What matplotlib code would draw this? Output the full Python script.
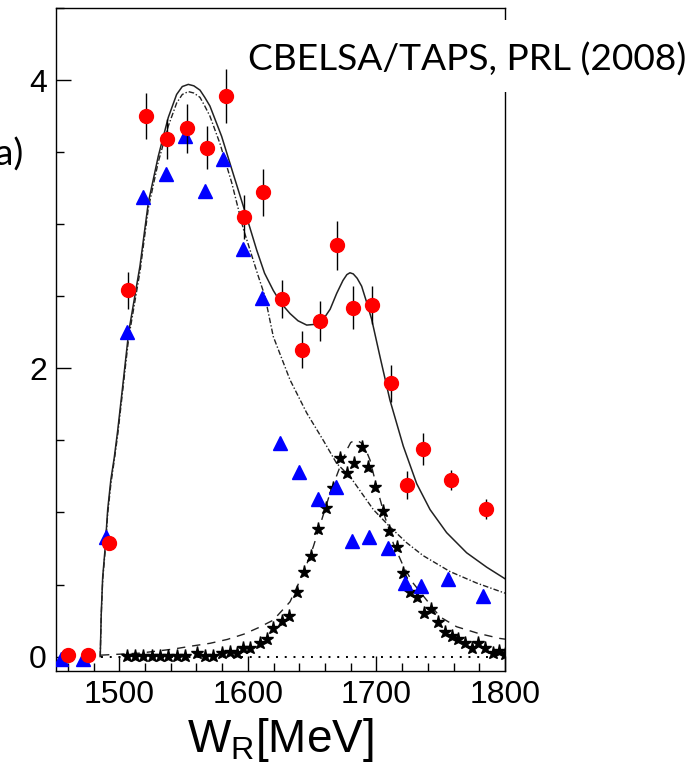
import matplotlib
matplotlib.use('Agg')
import matplotlib.pyplot as plt
from matplotlib.patches import Rectangle
from matplotlib.ticker import MultipleLocator
from matplotlib.transforms import Bbox, TransformedBbox, offset_copy

plt.rcParams['font.family'] = ['Liberation Sans', 'DejaVu Sans']
plt.rcParams['mathtext.default'] = 'regular'

# data points (red circles with errors, blue triangles)
red_x = [1460, 1476, 1492, 1507, 1520.5, 1537, 1553, 1568, 1583, 1597, 1612, 1626.5,
         1642, 1656, 1669.5, 1682, 1696.5, 1711, 1724, 1736.5, 1758, 1785]
red_y = [0.01, 0.01, 0.79, 2.54, 3.75, 3.59, 3.665, 3.53, 3.89, 3.05, 3.22, 2.48,
         2.13, 2.33, 2.855, 2.42, 2.44, 1.895, 1.19, 1.44, 1.225, 1.025]
red_err = [0, 0, 0.03, 0.13, 0.16, 0.14, 0.17, 0.15, 0.19, 0.15, 0.16, 0.13,
           0.13, 0.14, 0.17, 0.15, 0.13, 0.13, 0.10, 0.11, 0.07, 0.07]

blue_x = [1455, 1472, 1490, 1506, 1518.5, 1536, 1551, 1566.5, 1581, 1596, 1611, 1625,
          1640, 1654.5, 1668.5, 1681, 1694.5, 1709, 1722, 1735, 1756, 1783]
blue_y = [-0.02, -0.02, 0.83, 2.25, 3.19, 3.35, 3.61, 3.23, 3.45, 2.83, 2.49, 1.48,
          1.28, 1.09, 1.18, 0.80, 0.83, 0.75, 0.51, 0.49, 0.54, 0.42]

# full model (solid)
total_x = [1485.2, 1486.0, 1487.1, 1488.9, 1491.0, 1493.5, 1496.1, 1498.8, 1502.6, 1507.3,
           1516.1, 1522.6, 1530.3, 1538.1, 1544.6, 1549.0, 1553.7, 1558.0, 1562.8, 1566.5,
           1570.5, 1579.6, 1588.6, 1597.7, 1606.9, 1613.0, 1619.8, 1626.0, 1632.8, 1639.0,
           1645.8, 1652.0, 1658.7, 1664.0, 1669.1, 1674.0, 1677.0, 1679.4, 1682.0, 1685.0,
           1688.5, 1692.0, 1696.3, 1702.8, 1710.5, 1720.9, 1731.3, 1741.7, 1754.6, 1770.2,
           1785.8, 1800]
total_y = [0.0, 0.30, 0.55, 0.74, 1.02, 1.23, 1.38, 1.57, 1.87, 2.25,
           2.71, 3.15, 3.47, 3.74, 3.90, 3.955, 3.97, 3.96, 3.93, 3.88,
           3.82, 3.61, 3.35, 3.09, 2.82, 2.66, 2.54, 2.45, 2.38, 2.33,
           2.30, 2.305, 2.34, 2.41, 2.52, 2.61, 2.65, 2.663, 2.655, 2.625,
           2.57, 2.47, 2.34, 2.08, 1.78, 1.46, 1.20, 1.02, 0.86, 0.72,
           0.62, 0.54]

# first resonance (dash-dot)
res1_x = [1485.2, 1486.0, 1487.1, 1488.9, 1491.0, 1493.5, 1496.1, 1498.8, 1502.6, 1507.3,
          1516.1, 1522.6, 1530.3, 1538.1, 1544.6, 1549.0, 1553.7, 1558.0, 1562.8, 1566.5,
          1570.5, 1578.3, 1587.4, 1596.4, 1608.1, 1613.3, 1619.8, 1632.8, 1645.8, 1658.7,
          1669.1, 1679.4, 1697.6, 1710.5, 1723.5, 1736.4, 1757.2, 1778.0, 1800]
res1_y = [0.0, 0.29, 0.53, 0.72, 0.99, 1.20, 1.36, 1.54, 1.84, 2.21,
          2.67, 3.11, 3.43, 3.68, 3.84, 3.90, 3.92, 3.91, 3.88, 3.82,
          3.75, 3.56, 3.29, 2.97, 2.64, 2.50, 2.22, 1.92, 1.69, 1.50,
          1.34, 1.25, 1.02, 0.90, 0.79, 0.70, 0.59, 0.51, 0.44]

# second resonance (dashed)
res2_x = [1485.8, 1516.1, 1542.0, 1556.3, 1570.5, 1584.0, 1597.0, 1608.1, 1619.8, 1632.8,
          1643.1, 1650.9, 1657.4, 1663.9, 1671.7, 1676.9, 1680.0, 1683.0, 1686.0, 1688.5,
          1692.0, 1695.0, 1700.2, 1706.6, 1713.1, 1720.9, 1728.7, 1749.4, 1762.4, 1779.2,
          1796.0, 1800]
res2_y = [0.01, 0.024, 0.052, 0.073, 0.092, 0.119, 0.156, 0.200, 0.253, 0.380,
          0.577, 0.762, 0.947, 1.133, 1.317, 1.433, 1.485, 1.500, 1.495, 1.480,
          1.430, 1.364, 1.178, 0.970, 0.786, 0.628, 0.508, 0.276, 0.207, 0.161,
          0.126, 0.121]

# star points
star_x = [1505.7, 1512.2, 1518.7, 1525.2, 1531.7, 1538.1, 1544.6, 1551.1, 1560.2, 1566.7,
          1573.1, 1579.6, 1586.1, 1591.3, 1596.5, 1601.7, 1609.4, 1614.6, 1619.8, 1626.3,
          1632.2, 1638.0, 1643.7, 1648.8, 1654.8, 1660.8, 1666.0, 1671.7, 1676.8, 1682.5,
          1688.5, 1693.7, 1698.9, 1704.8, 1710.0, 1715.7, 1720.4, 1726.1, 1731.8, 1737.0,
          1742.2, 1748.1, 1753.3, 1758.5, 1763.7, 1768.9, 1774.1, 1779.3, 1784.4, 1790.4,
          1795.6, 1800.0]
star_y = [0.003, 0.003, 0.003, 0.003, 0.003, 0.003, 0.003, 0.003, 0.022, 0.003,
          0.003, 0.022, 0.034, 0.022, 0.057, 0.057, 0.091, 0.119, 0.195, 0.249,
          0.281, 0.450, 0.589, 0.697, 0.883, 1.033, 1.167, 1.375, 1.271, 1.341,
          1.456, 1.317, 1.179, 1.012, 0.873, 0.762, 0.577, 0.450, 0.415, 0.300,
          0.327, 0.242, 0.172, 0.142, 0.119, 0.091, 0.057, 0.096, 0.057, 0.022,
          0.040, 0.017]

zero_x = [1486, 1800]
zero_y = [0, 0]

fig = plt.figure(figsize=(6.9, 7.67), dpi=100)
ax = fig.add_axes([56 / 690, 1 - 671 / 767, 449 / 690, 663 / 767])

line_col = '#222222'
ax.plot(zero_x, zero_y, color='black', lw=1.4, ls=(0, (1, 3.5)), zorder=1)
ax.plot(res2_x, res2_y, color=line_col, lw=1.0, ls=(0, (6, 5)), zorder=2)
ax.plot(res1_x, res1_y, color=line_col, lw=1.0, ls=(0, (4, 1.5, 1, 1.5)), zorder=2)
ax.plot(total_x, total_y, color=line_col, lw=1.1, zorder=2)
ax.plot(star_x, star_y, ls='none', marker='*', ms=9.5, color='black', zorder=3)
ax.plot(blue_x, blue_y, ls='none', marker='^', ms=10, color='#0000ff', zorder=4)
ax.errorbar(red_x, red_y, yerr=red_err, fmt='o', ms=10, color='#ff0000',
            ecolor='black', elinewidth=1.0, capsize=0, zorder=5)

ax.set_xlim(1450.8, 1800)
ax.set_ylim(-0.10, 4.5)
ax.xaxis.set_major_locator(MultipleLocator(100))
ax.xaxis.set_minor_locator(MultipleLocator(20))
ax.yaxis.set_major_locator(MultipleLocator(2))
ax.yaxis.set_minor_locator(MultipleLocator(0.5))
ax.tick_params(which='both', direction='in', top=False, right=False,
               labelsize=23, pad=6.5, width=1.0, color='black')
ax.tick_params(which='major', length=11)
ax.tick_params(which='minor', length=5.5)
for sp in ax.spines.values():
    sp.set_linewidth(1.0)
ax.set_xlabel('W$_{R}$[MeV]', fontsize=33, labelpad=4)

# partially hidden 1400 label at the left edge
trans = offset_copy(ax.get_xaxis_transform(), fig=fig, y=-6.5, units='points')
t = fig.text(1400, 0, '1400', transform=trans, ha='center', va='top', fontsize=23)
t.set_clip_on(True)
t.set_clip_box(TransformedBbox(Bbox.from_extents(24 / 690, 0, 0.3, 0.3), fig.transFigure))

# white label box over the top right corner
fig.add_artist(Rectangle((238 / 690, 1 - 92 / 767), 452 / 690, 72 / 767,
                         transform=fig.transFigure, facecolor='white',
                         edgecolor='none', zorder=2))
fig.text(248 / 690, 1 - 60 / 767, 'CBELSA/TAPS, PRL (2008)', family='Lato',
         fontsize=26.7, ha='left', va='center', zorder=3)
fig.text(24 / 690, 1 - 155 / 767, '(a)', family='Lato', fontsize=26.7,
         ha='right', va='center')

fig.savefig('out.png', dpi=100)
